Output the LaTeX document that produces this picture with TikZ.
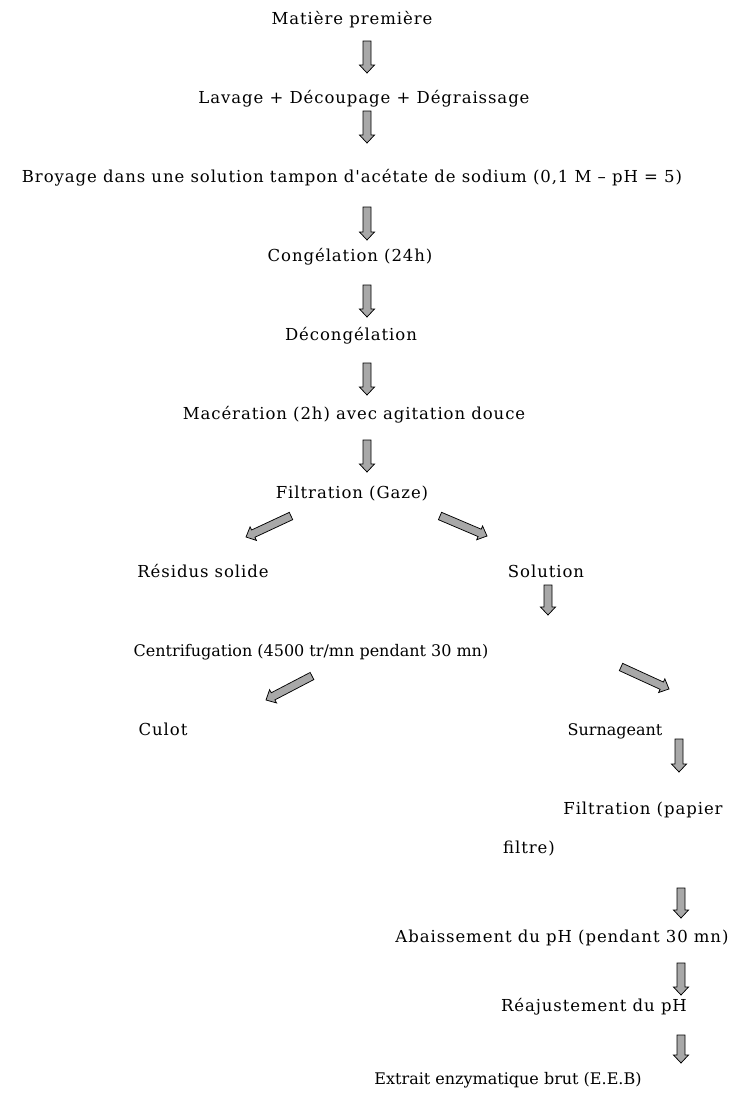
\documentclass[tikz,border=0pt]{standalone}
\usepackage{fontspec}
\setmainfont{DejaVu Serif}
\newfontfamily\wideserif[LetterSpace=5.6]{DejaVu Serif}
\usetikzlibrary{calc}
\definecolor{afill}{RGB}{168,168,168}
\tikzset{
  txt/.style={inner sep=0pt, font=\wideserif\fontsize{16.5}{20}\selectfont, text height=12pt, text depth=4pt},
  tighttxt/.style={inner sep=0pt, font=\fontsize{16}{20}\selectfont, text height=12pt, text depth=4pt},
  blockarrow/.style={fill=afill, draw=black, line width=0.75pt, line join=miter},
}
\newcommand\barrow[2]{%
  \coordinate (bh) at ($(#2)!8pt!(#1)$);
  \draw[blockarrow] ($(#1)!4pt!90:(#2)$) -- ($(bh)!4pt!90:(#2)$) -- ($(bh)!7.5pt!90:(#2)$) -- (#2)
    -- ($(bh)!7.5pt!-90:(#2)$) -- ($(bh)!4pt!-90:(#2)$) -- ($(#1)!4pt!-90:(#2)$) -- cycle;}
\begin{document}
\begin{tikzpicture}[x=1pt,y=-1pt]
\useasboundingbox (0,0) rectangle (739,1093);
\fill[white] (0,0) rectangle (739,1093);

\node[txt] (mp) at (352,20) {Matière première};
\node[txt] (lav) at (364,99) {Lavage + Découpage + Dégraissage};
\node[txt] (broy) at (352,178) {Broyage dans une solution tampon d'acétate de sodium (0,1 M – pH = 5)};
\node[txt] (cong) at (350,257) {Congélation (24h)};
\node[txt] (decong) at (351,336) {Décongélation};
\node[txt] (mac) at (354,415) {Macération (2h) avec agitation douce};
\node[txt] (filt) at (352,494) {Filtration (Gaze)};
\node[txt] (res) at (203,573) {Résidus solide};
\node[txt] (sol) at (546,573) {Solution};
\node[tighttxt] (centri) at (311,652) {Centrifugation (4500 tr/mn pendant 30 mn)};
\node[txt] (culot) at (163,731) {Culot};
\node[tighttxt] (surn) at (615,731) {Surnageant};
\node[txt] (fpap) at (643,810) {Filtration (papier};
\node[txt] (filtre) at (529,849) {filtre)};
\node[txt] (abai) at (562,938) {Abaissement du pH (pendant 30 mn)};
\node[txt] (reaj) at (594,1007) {Réajustement du pH};
\node[tighttxt] (extr) at (508,1080) {Extrait enzymatique brut (E.E.B)};

% arrow end points
\coordinate (a1s) at (367,41);  \coordinate (a1e) at (367,73);
\coordinate (a2s) at (367,111); \coordinate (a2e) at (367,143);
\coordinate (a3s) at (367,207); \coordinate (a3e) at (367,240);
\coordinate (a4s) at (367,285); \coordinate (a4e) at (367,317);
\coordinate (a5s) at (367,363); \coordinate (a5e) at (367,395);
\coordinate (a6s) at (367,440); \coordinate (a6e) at (367,472);
\coordinate (dls) at (291,516); \coordinate (dle) at (246,537);
\coordinate (drs) at (440,516); \coordinate (dre) at (487,536);
\coordinate (a7s) at (548,585); \coordinate (a7e) at (548,615);
\coordinate (cls) at (312,676); \coordinate (cle) at (266,700);
\coordinate (crs) at (621,667); \coordinate (cre) at (669,689);
\coordinate (a8s) at (679,739); \coordinate (a8e) at (679,772);
\coordinate (a9s) at (681,888); \coordinate (a9e) at (681,918);
\coordinate (a10s) at (681,963); \coordinate (a10e) at (681,995);
\coordinate (a11s) at (681,1035); \coordinate (a11e) at (681,1063);

\barrow{a1s}{a1e}
\barrow{a2s}{a2e}
\barrow{a3s}{a3e}
\barrow{a4s}{a4e}
\barrow{a5s}{a5e}
\barrow{a6s}{a6e}
\barrow{dls}{dle}
\barrow{drs}{dre}
\barrow{a7s}{a7e}
\barrow{cls}{cle}
\barrow{crs}{cre}
\barrow{a8s}{a8e}
\barrow{a9s}{a9e}
\barrow{a10s}{a10e}
\barrow{a11s}{a11e}
\end{tikzpicture}
\end{document}
